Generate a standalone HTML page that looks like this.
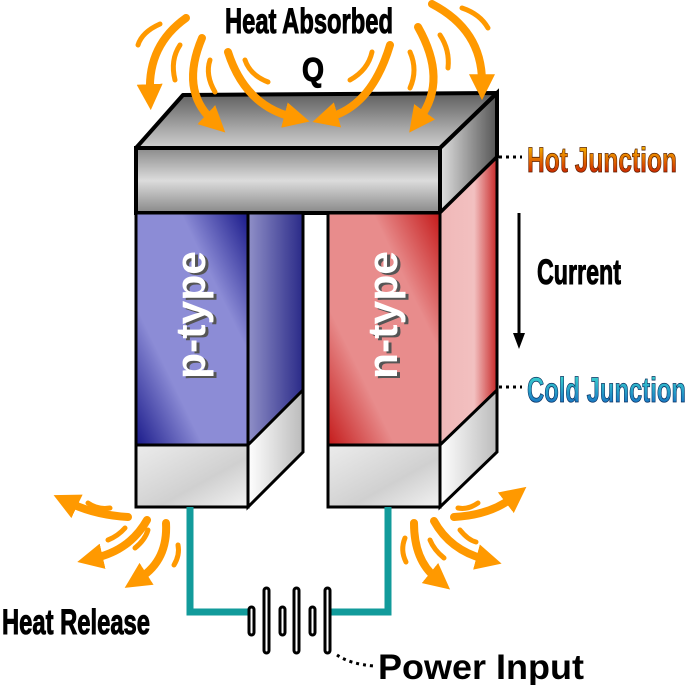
<!DOCTYPE html>
<html><head><style>html,body{margin:0;padding:0;background:#fff}svg{display:block}</style></head><body>
<svg width="687" height="685" viewBox="0 0 687 685" xmlns="http://www.w3.org/2000/svg">
<defs>
<linearGradient id="tf" x1="0" y1="0" x2="0" y2="1"><stop offset="0" stop-color="#5e5e5e"/><stop offset="1" stop-color="#d0d0d0"/></linearGradient>
<linearGradient id="ff" x1="0" y1="0" x2="0" y2="1"><stop offset="0" stop-color="#8a8a8a"/><stop offset="0.5" stop-color="#dcdcdc"/><stop offset="1" stop-color="#888"/></linearGradient>
<linearGradient id="sf" x1="0" y1="0" x2="1" y2="0"><stop offset="0" stop-color="#e0e0e0"/><stop offset="1" stop-color="#555"/></linearGradient>
<linearGradient id="pf" x1="0" y1="1" x2="1" y2="0"><stop offset="0" stop-color="#1a1a8a"/><stop offset="0.3" stop-color="#8c8cd6"/><stop offset="0.7" stop-color="#8c8cd6"/><stop offset="1" stop-color="#1a1a8a"/></linearGradient>
<linearGradient id="ps" x1="0" y1="0" x2="1" y2="0"><stop offset="0" stop-color="#9090c8"/><stop offset="1" stop-color="#2a2a88"/></linearGradient>
<linearGradient id="nf" x1="0" y1="1" x2="1" y2="0"><stop offset="0" stop-color="#c41a1a"/><stop offset="0.3" stop-color="#e88c8c"/><stop offset="0.7" stop-color="#e88c8c"/><stop offset="1" stop-color="#c41a1a"/></linearGradient>
<linearGradient id="ns" x1="0" y1="0" x2="1" y2="0"><stop offset="0" stop-color="#f0b8b8"/><stop offset="0.6" stop-color="#f2c0c0"/><stop offset="1" stop-color="#c82828"/></linearGradient>
<linearGradient id="bf" x1="0" y1="0" x2="1" y2="1"><stop offset="0" stop-color="#ececec"/><stop offset="0.6" stop-color="#d0d0d0"/><stop offset="1" stop-color="#f2f2f2"/></linearGradient>
<linearGradient id="bs" x1="0" y1="0" x2="1" y2="0"><stop offset="0" stop-color="#ffffff"/><stop offset="1" stop-color="#bbbbbb"/></linearGradient>
<linearGradient id="hot" x1="0" y1="0" x2="0" y2="1"><stop offset="0" stop-color="#ffd000"/><stop offset="1" stop-color="#c00000"/></linearGradient>
<linearGradient id="cold" x1="0" y1="0" x2="0" y2="1"><stop offset="0" stop-color="#40e0d0"/><stop offset="1" stop-color="#1060c0"/></linearGradient>
<marker id="ah" viewBox="0 0 10 10" refX="3" refY="5" markerWidth="26" markerHeight="26" markerUnits="userSpaceOnUse" orient="auto"><path d="M0,0 L10,5 L0,10 Z" fill="#f90"/></marker>
</defs>

<polygon points="136,148 183,95 497,93 440,148" fill="url(#tf)" stroke="#000" stroke-width="4" stroke-linejoin="round"/>
<rect x="136" y="148" width="304" height="65" fill="url(#ff)" stroke="#000" stroke-width="4"/>
<polygon points="440,148 497,93 497,157 440,213" fill="url(#sf)" stroke="#000" stroke-width="4"/>

<rect x="248" y="213" width="55" height="232" fill="url(#ps)" stroke="#000" stroke-width="3"/>
<rect x="136" y="213" width="112" height="232" fill="url(#pf)" stroke="#000" stroke-width="3"/>
<polygon points="440,213 497,157 497,445 440,445" fill="url(#ns)" stroke="#000" stroke-width="3"/>
<rect x="328" y="213" width="112" height="232" fill="url(#nf)" stroke="#000" stroke-width="3"/>

<rect x="136" y="445" width="112" height="62" fill="url(#bf)" stroke="#000" stroke-width="3"/>
<polygon points="248,445 303,390 303,452 248,507" fill="url(#bs)" stroke="#000" stroke-width="3"/>
<rect x="328" y="445" width="112" height="62" fill="url(#bf)" stroke="#000" stroke-width="3"/>
<polygon points="440,445 497,390 497,452 440,507" fill="url(#bs)" stroke="#000" stroke-width="3"/>

<g font-family="Liberation Sans, sans-serif" font-weight="bold" font-size="42">
<text transform="translate(208,381) rotate(-90)" textLength="128" lengthAdjust="spacingAndGlyphs" fill="#555">p-type</text>
<text transform="translate(205,379) rotate(-90)" textLength="128" lengthAdjust="spacingAndGlyphs" fill="#fff">p-type</text>
<text transform="translate(400,381) rotate(-90)" textLength="128" lengthAdjust="spacingAndGlyphs" fill="#555">n-type</text>
<text transform="translate(397,379) rotate(-90)" textLength="128" lengthAdjust="spacingAndGlyphs" fill="#fff">n-type</text>
</g>

<polyline points="190,507 190,612 250,612" fill="none" stroke="#129b9b" stroke-width="7"/>
<polyline points="388,507 388,612 327,612" fill="none" stroke="#129b9b" stroke-width="7"/>
<g fill="#fff" stroke="#000" stroke-width="3">
<rect x="249" y="607" width="5" height="28" rx="2.5"/>
<rect x="264" y="588" width="5" height="65" rx="2.5"/>
<rect x="280" y="607" width="5" height="28" rx="2.5"/>
<rect x="294" y="588" width="5" height="65" rx="2.5"/>
<rect x="310" y="607" width="5" height="28" rx="2.5"/>
<rect x="325" y="588" width="5" height="65" rx="2.5"/>
</g>

<g stroke="#000" stroke-width="3" stroke-dasharray="3,4" fill="none">
<line x1="499" y1="157" x2="522" y2="157"/>
<line x1="499" y1="387" x2="522" y2="387"/>
<path d="M337,655 Q350,664 374,666"/>
</g>
<line x1="519" y1="213" x2="519" y2="335" stroke="#000" stroke-width="3"/>
<polygon points="513,333 525,333 519,349" fill="#000"/>

<g font-family="Liberation Sans, sans-serif" font-weight="bold">
<text x="225" y="33" font-size="35" textLength="168" lengthAdjust="spacingAndGlyphs" stroke="#000" stroke-width="1">Heat Absorbed</text>
<text x="302" y="81" font-size="33" textLength="22" lengthAdjust="spacingAndGlyphs" stroke="#000" stroke-width="1">Q</text>
<text x="527" y="172" font-size="35" textLength="150" lengthAdjust="spacingAndGlyphs" fill="url(#hot)" stroke="#5a2000" stroke-width="0.8">Hot Junction</text>
<text x="537" y="284" font-size="35" textLength="84" lengthAdjust="spacingAndGlyphs" stroke="#000" stroke-width="1">Current</text>
<text x="527" y="402" font-size="35" textLength="159" lengthAdjust="spacingAndGlyphs" fill="url(#cold)" stroke="#0a3060" stroke-width="0.8">Cold Junction</text>
<text x="2" y="634" font-size="35" textLength="148" lengthAdjust="spacingAndGlyphs" stroke="#000" stroke-width="1">Heat Release</text>
<text x="378" y="679" font-size="35" textLength="206" lengthAdjust="spacingAndGlyphs">Power Input</text>
</g>

<g fill="none" stroke="#f90" stroke-width="8" stroke-linecap="round">
<path d="M186,18 Q148,45 150,92" marker-end="url(#ah)"/>
<path d="M202,38 Q180,90 212,120" marker-end="url(#ah)"/>
<path d="M228,52 Q245,105 292,117" marker-end="url(#ah)"/>
<path d="M390,45 Q372,105 330,117" marker-end="url(#ah)"/>
<path d="M418,27 Q448,80 420,118" marker-end="url(#ah)"/>
<path d="M432,4 Q482,30 482,82" marker-end="url(#ah)"/>
<path d="M128,517 Q95,515 70,503" marker-end="url(#ah)"/>
<path d="M147,520 Q130,550 95,558" marker-end="url(#ah)"/>
<path d="M166,523 Q168,560 140,578" marker-end="url(#ah)"/>
<path d="M454,517 Q490,515 512,498" marker-end="url(#ah)"/>
<path d="M434,521 Q450,550 484,559" marker-end="url(#ah)"/>
<path d="M414,523 Q414,560 436,578" marker-end="url(#ah)"/>
</g>
<g fill="none" stroke="#f90" stroke-width="5" stroke-linecap="round">
<path d="M160,24 Q142,32 138,45"/>
<path d="M180,45 Q170,60 175,80"/>
<path d="M210,60 Q205,75 215,92"/>
<path d="M245,60 Q250,75 268,82"/>
<path d="M372,52 Q368,70 350,80"/>
<path d="M410,52 Q418,70 410,88"/>
<path d="M440,35 Q450,50 448,68"/>
<path d="M462,8 Q480,14 488,28"/>
<path d="M88,503 Q98,510 110,508"/>
<path d="M108,540 Q118,536 125,528"/>
<path d="M135,548 Q145,540 148,530"/>
<path d="M178,545 Q180,555 174,565"/>
<path d="M478,503 Q468,510 458,508"/>
<path d="M460,530 Q468,540 476,542"/>
<path d="M430,540 Q434,550 444,558"/>
<path d="M405,538 Q400,550 406,562"/>
</g>
</svg>
</body></html>
